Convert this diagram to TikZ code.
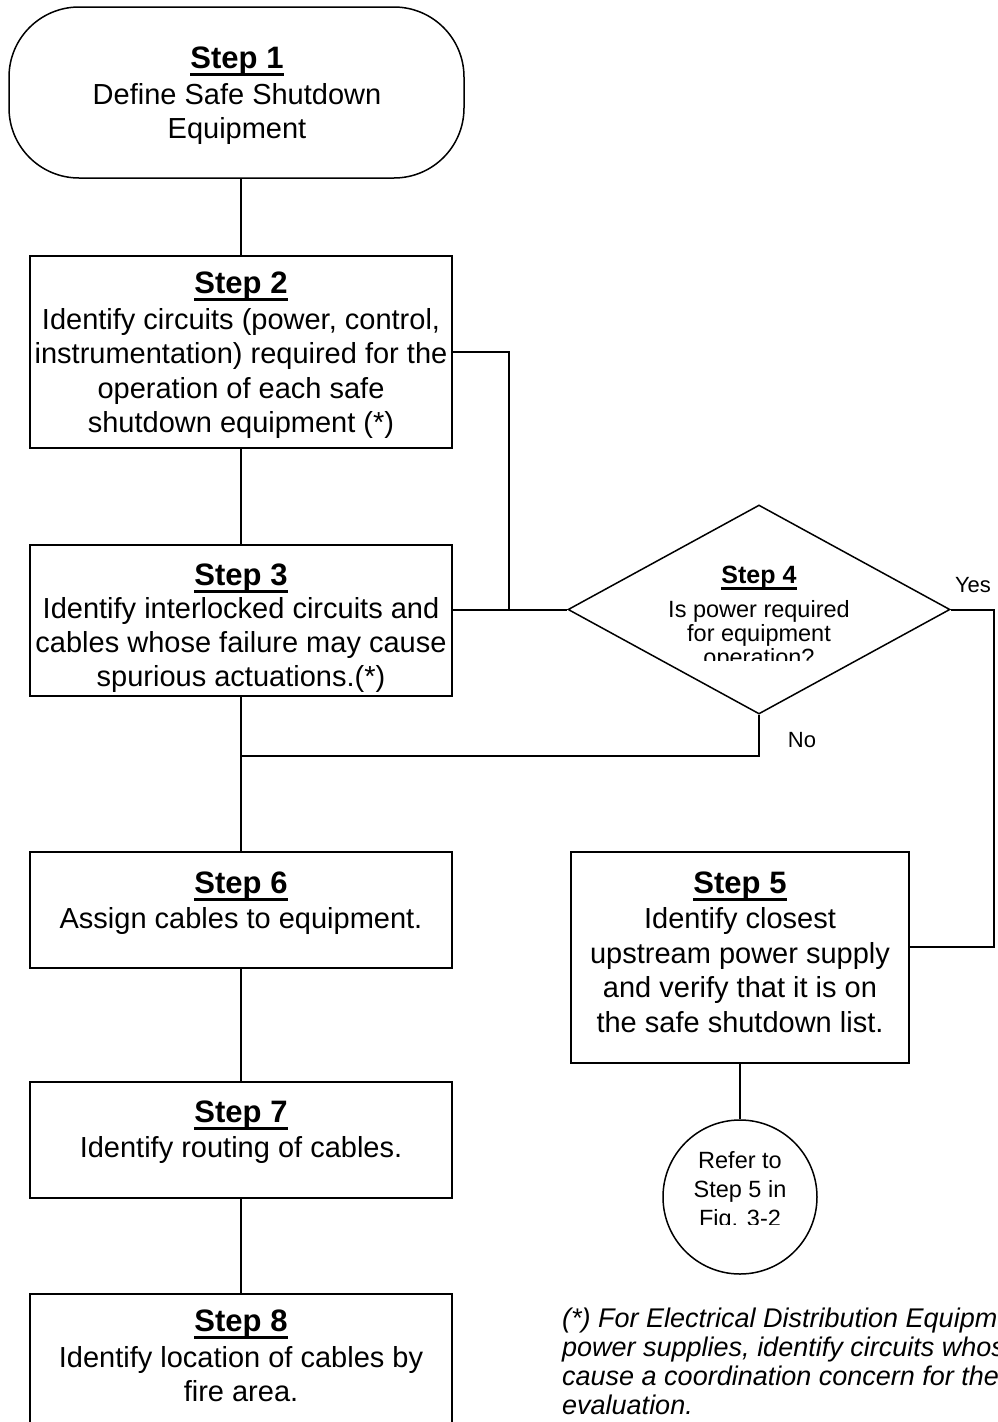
\documentclass[tikz,border=0pt]{standalone}
\usepackage{fontspec}
\setmainfont{Liberation Sans}
\usetikzlibrary{shapes.geometric}
\begin{document}
\begin{tikzpicture}[x=1pt,y=-1pt,
  box/.style={draw, line width=2pt, inner sep=0pt, rectangle},
  thinline/.style={draw, line width=1.5pt, inner sep=0pt},
  hd/.style={anchor=base, inner sep=0pt, font=\bfseries\fontsize{31}{31}\selectfont},
  tx/.style={anchor=base, inner sep=0pt, font=\fontsize{29}{29}\selectfont},
  hds/.style={anchor=base, inner sep=0pt, font=\bfseries\fontsize{25}{25}\selectfont},
  txs/.style={anchor=base, inner sep=0pt, font=\fontsize{23.5}{23.5}\selectfont},
  lbl/.style={anchor=base, inner sep=0pt, font=\fontsize{22}{22}\selectfont},
  note/.style={anchor=base west, inner sep=0pt, font=\itshape\fontsize{27}{27}\selectfont},
  uline/.style={line width=2.6pt},
  conn/.style={line width=2pt},
]
\clip (0,0) rectangle (997,1422);
\fill[white] (0,0) rectangle (997,1422);

% ---------- Step 1 ----------
\node[thinline, rounded corners=70pt, minimum width=455pt, minimum height=171pt] (s1) at (236.5,92.5) {};
\node[hd] (s1h) at (237,68) {Step 1};
\draw[uline] ([yshift=-6.5pt]s1h.base west) -- ([yshift=-6.5pt]s1h.base east);
\node[tx] (s1a) at (237,104) {Define Safe Shutdown};
\node[tx] (s1b) at (237,138) {Equipment};

% ---------- Step 2 ----------
\node[box, minimum width=422pt, minimum height=192pt] (s2) at (241,352) {};
\node[hd] (s2h) at (241,293) {Step 2};
\draw[uline] ([yshift=-6.5pt]s2h.base west) -- ([yshift=-6.5pt]s2h.base east);
\node[tx] (s2a) at (241,329) {Identify circuits (power, control,};
\node[tx] (s2b) at (241,363.5) {instrumentation) required for the};
\node[tx] (s2c) at (241,398) {operation of each safe};
\node[tx] (s2d) at (241,432.5) {shutdown equipment (*)};

% ---------- Step 3 ----------
\node[box, minimum width=422pt, minimum height=151pt] (s3) at (241,620.5) {};
\begin{scope}
  \clip (31,546) rectangle (451,695);
  \node[hd] (s3h) at (241,585) {Step 3};
  \draw[uline] ([yshift=-6.5pt]s3h.base west) -- ([yshift=-6.5pt]s3h.base east);
  \node[tx] (s3a) at (241,618) {Identify interlocked circuits and};
  \node[tx] (s3b) at (241,652) {cables whose failure may cause};
  \node[tx] (s3c) at (241,686) {spurious actuations.(*)};
\end{scope}

% ---------- Step 4 ----------
\node[thinline, diamond, aspect=1.83, minimum width=382pt, minimum height=209pt] (d4) at (759,609.5) {};
\begin{scope}
  \clip (640,560) rectangle (880,660);
  \node[hds] (d4h) at (759,583) {Step 4};
  \draw[line width=2.2pt] ([yshift=-5.5pt]d4h.base west) -- ([yshift=-5.5pt]d4h.base east);
  \node[txs] (d4a) at (759,617) {Is power required};
  \node[txs] (d4b) at (759,641) {for equipment};
  \node[txs] (d4c) at (759,665) {operation?};
\end{scope}
\node[lbl] (yes) at (973,592) {Yes};
\node[lbl] (no) at (802,747) {No};

% ---------- Step 5 ----------
\node[box, minimum width=338pt, minimum height=211pt] (s5) at (740,957.5) {};
\node[hd] (s5h) at (740,893) {Step 5};
\draw[uline] ([yshift=-6.5pt]s5h.base west) -- ([yshift=-6.5pt]s5h.base east);
\node[tx] (s5a) at (740,928) {Identify closest};
\node[tx] (s5b) at (740,963) {upstream power supply};
\node[tx] (s5c) at (740,997) {and verify that it is on};
\node[tx] (s5d) at (740,1032) {the safe shutdown list.};

% ---------- Reference circle ----------
\node[thinline, circle, minimum size=154pt] (c5) at (740,1197) {};
\begin{scope}
  \clip (663,1120) rectangle (817,1224);
  \node[txs] (c5a) at (740,1168) {Refer to};
  \node[txs] (c5b) at (740,1197) {Step 5 in};
  \node[txs] (c5c) at (740,1226) {Fig. 3-2};
\end{scope}

% ---------- Step 6 ----------
\node[box, minimum width=422pt, minimum height=116pt] (s6) at (241,910) {};
\node[hd] (s6h) at (241,893) {Step 6};
\draw[uline] ([yshift=-6.5pt]s6h.base west) -- ([yshift=-6.5pt]s6h.base east);
\node[tx] (s6a) at (241,928) {Assign cables to equipment.};

% ---------- Step 7 ----------
\node[box, minimum width=422pt, minimum height=116pt] (s7) at (241,1140) {};
\node[hd] (s7h) at (241,1122) {Step 7};
\draw[uline] ([yshift=-6.5pt]s7h.base west) -- ([yshift=-6.5pt]s7h.base east);
\node[tx] (s7a) at (241,1157) {Identify routing of cables.};

% ---------- Step 8 ----------
\node[box, minimum width=422pt, minimum height=146pt] (s8) at (241,1367) {};
\node[hd] (s8h) at (241,1331) {Step 8};
\draw[uline] ([yshift=-6.5pt]s8h.base west) -- ([yshift=-6.5pt]s8h.base east);
\node[tx] (s8a) at (241,1367) {Identify location of cables by};
\node[tx] (s8b) at (241,1401) {fire area.};

% ---------- Note (cut by the right edge, as in the reference) ----------
\node[note] (n1) at (562,1327) {(*) For Electrical Distribution Equipm};
\node[note] (n2) at (562,1356) {power supplies, identify circuits whos};
\node[note] (n3) at (562,1385) {cause a coordination concern for the};
\node[note] (n4) at (562,1414) {evaluation.};

% ---------- Connectors ----------
\coordinate (j1) at (509,609.5);
\coordinate (j2) at (241,756);
\coordinate (j3) at (994,947);
\draw[conn] (s2.north |- s1.south) -- (s2.north);
\draw[conn] (s2.south) -- (s3.north);
\draw[conn] (s2.east) -| (j1);
\draw[conn] (s3.east |- d4.west) -- (d4.west);
\draw[conn] (s3.south) -- (s6.north);
\draw[conn] (d4.south) |- (j2);
\draw[conn] (d4.east) -| (j3) -- (s5.east |- j3);
\draw[conn] (s5.south) -- (c5.north);
\draw[conn] (s6.south) -- (s7.north);
\draw[conn] (s7.south) -- (s8.north);
\end{tikzpicture}
\end{document}
